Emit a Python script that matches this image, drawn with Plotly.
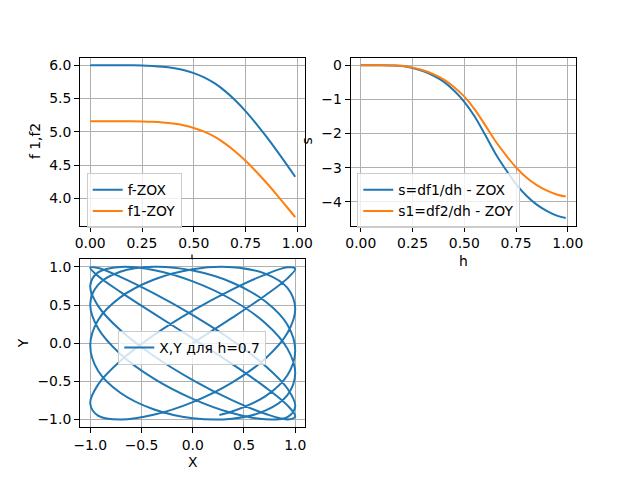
import plotly.graph_objects as go

# данные
h = [0.0, 0.05, 0.10, 0.15, 0.20, 0.25, 0.30, 0.35, 0.40, 0.45, 0.50,
     0.55, 0.60, 0.65, 0.70, 0.75, 0.80, 0.85, 0.90, 0.95, 0.99]
f_zox = [6.000, 6.000, 6.000, 6.000, 5.999, 5.997, 5.990, 5.979, 5.959, 5.929, 5.883,
         5.819, 5.731, 5.616, 5.475, 5.312, 5.129, 4.932, 4.723, 4.505, 4.327]
f1_zoy = [5.160, 5.160, 5.160, 5.160, 5.159, 5.157, 5.152, 5.142, 5.125, 5.099, 5.060,
          5.004, 4.929, 4.829, 4.708, 4.568, 4.411, 4.241, 4.061, 3.874, 3.721]
s_zox = [0.0, 0.0, 0.0, -0.005, -0.02, -0.08, -0.17, -0.30, -0.48, -0.74, -1.07,
         -1.50, -2.03, -2.58, -3.05, -3.48, -3.82, -4.08, -4.27, -4.41, -4.47]
s1_zoy = [0.0, 0.0, 0.0, -0.004, -0.017, -0.069, -0.146, -0.258, -0.413, -0.636, -0.920,
          -1.290, -1.746, -2.219, -2.623, -2.993, -3.285, -3.509, -3.672, -3.793, -3.844]

# фигура Лиссажу для h=0.7
X = [0, 0.383, 0.707, 0.924, 1, 0.924, 0.707, 0.383, 0, -0.383, -0.707, -0.924, -1, -0.924, -0.707, -0.383,
     0, 0.383, 0.707, 0.924, 1, 0.924, 0.707, 0.383, 0, -0.383, -0.707, -0.924, -1, -0.924, -0.707, -0.383,
     0, 0.383, 0.707, 0.924, 1, 0.924, 0.707, 0.383, 0, -0.383, -0.707, -0.924, -1, -0.924, -0.707, -0.383,
     0, 0.383, 0.707, 0.924, 1, 0.924, 0.707, 0.383, 0, -0.383, -0.707, -0.924, -1, -0.924, -0.707, -0.383,
     0, 0.383, 0.707, 0.924, 1, 0.924, 0.707, 0.383, 0, -0.383, -0.707, -0.924, -1, -0.924, -0.707, -0.383,
     0, 0.383, 0.707, 0.924, 1, 0.924, 0.707, 0.383, 0.26]
Y = [0, 0.331, 0.625, 0.849, 0.976, 0.993, 0.898, 0.702, 0.426, 0.102, -0.233, -0.542, -0.790, -0.949, -1.000, -0.938,
     -0.771, -0.516, -0.203, 0.133, 0.454, 0.724, 0.911, 0.996, 0.969, 0.831, 0.600, 0.302, -0.031, -0.361, -0.649, -0.865,
     -0.982, -0.989, -0.884, -0.679, -0.397, -0.071, 0.264, 0.569, 0.809, 0.958, 0.999, 0.927, 0.750, 0.489, 0.172, -0.164,
     -0.482, -0.745, -0.924, -0.998, -0.960, -0.814, -0.575, -0.271, 0.063, 0.390, 0.673, 0.880, 0.988, 0.984, 0.869, 0.655,
     0.368, 0.039, -0.294, -0.594, -0.827, -0.967, -0.997, -0.915, -0.729, -0.461, -0.141, 0.195, 0.509, 0.765, 0.935, 1.000,
     0.951, 0.795, 0.549, 0.241, -0.094, -0.419, -0.696, -0.895, -0.939]

h_ticks = [0, 0.25, 0.5, 0.75, 1.0]
h_labels = ["0.00", "0.25", "0.50", "0.75", "1.00"]
f_ticks = [4.0, 4.5, 5.0, 5.5, 6.0]
f_labels = ["4.0", "4.5", "5.0", "5.5", "6.0"]
s_ticks = [0, -1, -2, -3, -4]
s_labels = ["0", "−1", "−2", "−3", "−4"]
xy_ticks = [-1, -0.5, 0, 0.5, 1]
xy_labels = ["−1.0", "−0.5", "0.0", "0.5", "1.0"]

W, H = 640, 480
FONT = dict(family="DejaVu Sans", size=13.9, color="black")
BLUE, ORANGE = "#1f77b4", "#ff7f0e"


def px(x):
    return x / W


def py(y):
    return 1 - y / H


fig = go.Figure()
fig.add_trace(go.Scatter(x=h, y=f_zox, mode="lines", name="f-ZOX", line=dict(color=BLUE, width=2, shape="spline"),
                         xaxis="x", yaxis="y", legend="legend"))
fig.add_trace(go.Scatter(x=h, y=f1_zoy, mode="lines", name="f1-ZOY", line=dict(color=ORANGE, width=2, shape="spline"),
                         xaxis="x", yaxis="y", legend="legend"))
fig.add_trace(go.Scatter(x=h, y=s_zox, mode="lines", name="s=df1/dh - ZOX", line=dict(color=BLUE, width=2, shape="spline"),
                         xaxis="x2", yaxis="y2", legend="legend2"))
fig.add_trace(go.Scatter(x=h, y=s1_zoy, mode="lines", name="s1=df2/dh - ZOY", line=dict(color=ORANGE, width=2, shape="spline"),
                         xaxis="x2", yaxis="y2", legend="legend2"))
fig.add_trace(go.Scatter(x=X, y=Y, mode="lines", name="X,Y для h=0.7", line=dict(color=BLUE, width=2, shape="spline"),
                         xaxis="x3", yaxis="y3", legend="legend3"))

# оси как в matplotlib
ax = dict(showline=True, mirror=True, linecolor="black", linewidth=1, ticks="outside", ticklen=5, tickwidth=1,
          tickcolor="black", showgrid=True, gridcolor="#b0b0b0", gridwidth=0.8, zeroline=False,
          tickfont=FONT, tickmode="array", automargin=False)
col1 = [px(80), px(305.45)]
col2 = [px(350.55), px(576)]
row1 = [py(225.6), py(57.6)]
row2 = [py(427.2), py(259.2)]

fig.update_layout(
    xaxis=dict(ax, domain=col1, anchor="y", range=[-0.0495, 1.0395], tickvals=h_ticks, ticktext=h_labels),
    yaxis=dict(ax, domain=row1, anchor="x", range=[3.595, 6.115], tickvals=f_ticks, ticktext=f_labels),
    xaxis2=dict(ax, domain=col2, anchor="y2", range=[-0.0495, 1.0395], tickvals=h_ticks, ticktext=h_labels),
    yaxis2=dict(ax, domain=row1, anchor="x2", range=[-4.694, 0.224], tickvals=s_ticks, ticktext=s_labels),
    xaxis3=dict(ax, domain=col1, anchor="y3", range=[-1.1, 1.1], tickvals=xy_ticks, ticktext=xy_labels),
    yaxis3=dict(ax, domain=row2, anchor="x3", range=[-1.1, 1.1], tickvals=xy_ticks, ticktext=xy_labels),
)

leg = dict(font=FONT, bgcolor="rgba(255,255,255,0.8)", bordercolor="#cccccc", borderwidth=1,
           xanchor="left", yanchor="top", itemwidth=30)
fig.update_layout(
    legend=dict(leg, x=px(86.7), y=py(173.3)),
    legend2=dict(leg, x=px(357.3), y=py(173.3)),
    legend3=dict(leg, x=px(118.3), y=py(331)),
)

# подписи осей
labels = [("f 1,f2", 34.5, 141.6, -90), ("s", 307, 141.6, -90), ("h", 463.3, 261, 0),
          ("X", 192.7, 462, 0), ("Y", 23, 343.2, -90)]
for txt, x0, y0, ang in labels:
    fig.add_annotation(text=txt, x=px(x0), y=py(y0), xref="paper", yref="paper", showarrow=False,
                       textangle=ang, xanchor="center", yanchor="middle", font=FONT)

# от подписи "h" первого графика виден только кончик
fig.add_shape(type="line", xref="paper", yref="paper", x0=px(192), x1=px(192), y0=py(254.5), y1=py(259.2),
              line=dict(color="black", width=1.2))

fig.update_layout(width=W, height=H, autosize=False,
                  margin=dict(l=0, r=0, t=0, b=0, pad=0, autoexpand=False),
                  paper_bgcolor="white", plot_bgcolor="white", font=FONT, showlegend=True)

# убираем отступ body, чтобы картинка начиналась в (0,0)
fig.write_html("out.html", config={"displayModeBar": False},
               post_script="document.body.style.margin='0';")
